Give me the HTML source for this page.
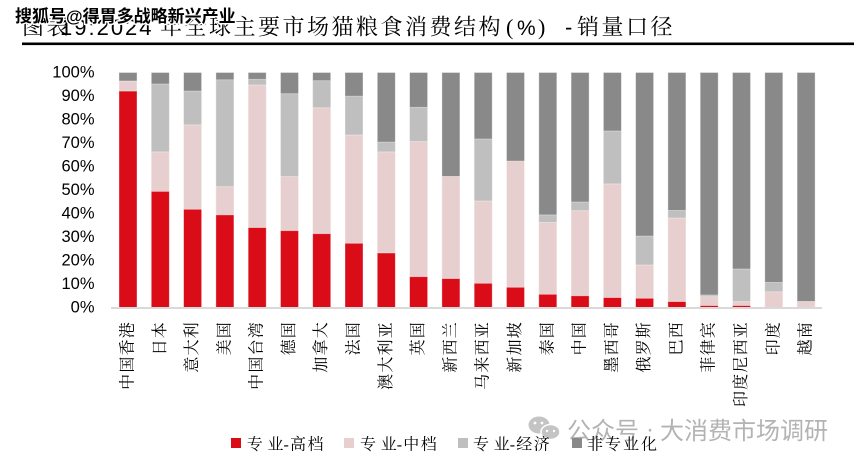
<!DOCTYPE html>
<html><head><meta charset="utf-8">
<style>
html,body{margin:0;padding:0;background:#fff;}
svg{display:block;}
.cjk{font-family:"Liberation Serif","Noto Serif CJK SC","Noto Sans CJK SC",serif;}
.sans{font-family:"Liberation Sans","Noto Sans CJK SC",sans-serif;}
</style></head>
<body>
<svg width="854" height="464" viewBox="0 0 854 464" xmlns="http://www.w3.org/2000/svg">
<rect width="854" height="464" fill="#fff"/>

<!-- Title -->
<g class="cjk" font-size="22" fill="#000">
  <text x="22" y="34.5" letter-spacing="2.5">图表</text>
  <text x="60" y="35" class="sans" font-size="22" letter-spacing="2">19:2024</text>
  <text x="160" y="34.5" letter-spacing="2.5">年全球主要市场猫粮食消费结构</text>
  <text x="506" y="34.5" font-family="'Liberation Serif',serif">(</text>
  <text x="517" y="35" class="sans" font-size="21">%</text>
  <text x="538" y="34.5" font-family="'Liberation Serif',serif">)</text>
  <text x="565" y="34.5" class="sans">-</text>
  <text x="577" y="34.5" letter-spacing="2.5">销量口径</text>
</g>
<rect x="22" y="42.5" width="832" height="2.6" fill="#000"/>

<!-- top-left watermark -->
<text x="15" y="22" font-size="17" font-weight="bold" fill="#000" stroke="#fff" stroke-width="3" paint-order="stroke" stroke-linejoin="round" font-family="'Liberation Sans','Noto Sans CJK SC',sans-serif">搜狐号@得胃多战略新兴产业</text>

<!-- Y axis labels -->
<g class="sans" font-size="16.5" fill="#000" text-anchor="end" dominant-baseline="central">
  <text x="94.5" y="307.5">0%</text>
  <text x="94.5" y="284">10%</text>
  <text x="94.5" y="260.5">20%</text>
  <text x="94.5" y="237">30%</text>
  <text x="94.5" y="213.5">40%</text>
  <text x="94.5" y="190">50%</text>
  <text x="94.5" y="166.5">60%</text>
  <text x="94.5" y="143">70%</text>
  <text x="94.5" y="119.5">80%</text>
  <text x="94.5" y="96">90%</text>
  <text x="94.5" y="72.5">100%</text>
</g>

<!-- Bars -->
<g stroke="#ffffff" stroke-opacity="0.45" stroke-width="0.8">
<g transform="translate(119,0)"><rect y="72.5" width="18" height="235" fill="#898989"/><rect y="81" width="18" height="226.5" fill="#E8CFCF"/><rect y="91.1" width="18" height="216.4" fill="#D90C18"/></g>
<g transform="translate(151.3,0)"><rect y="72.5" width="18" height="235" fill="#898989"/><rect y="84" width="18" height="223.5" fill="#BFBFBF"/><rect y="151.9" width="18" height="155.6" fill="#E8CFCF"/><rect y="191.4" width="18" height="116.1" fill="#D90C18"/></g>
<g transform="translate(183.6,0)"><rect y="72.5" width="18" height="235" fill="#898989"/><rect y="91.1" width="18" height="216.4" fill="#BFBFBF"/><rect y="124.9" width="18" height="182.6" fill="#E8CFCF"/><rect y="209.3" width="18" height="98.2" fill="#D90C18"/></g>
<g transform="translate(215.9,0)"><rect y="72.5" width="18" height="235" fill="#898989"/><rect y="79.8" width="18" height="227.7" fill="#BFBFBF"/><rect y="186.7" width="18" height="120.8" fill="#E8CFCF"/><rect y="214.9" width="18" height="92.6" fill="#D90C18"/></g>
<g transform="translate(248.2,0)"><rect y="72.5" width="18" height="235" fill="#898989"/><rect y="79.3" width="18" height="228.2" fill="#BFBFBF"/><rect y="85" width="18" height="222.5" fill="#E8CFCF"/><rect y="227.6" width="18" height="79.9" fill="#D90C18"/></g>
<g transform="translate(280.5,0)"><rect y="72.5" width="18" height="235" fill="#898989"/><rect y="93.7" width="18" height="213.8" fill="#BFBFBF"/><rect y="176.6" width="18" height="130.9" fill="#E8CFCF"/><rect y="230.7" width="18" height="76.8" fill="#D90C18"/></g>
<g transform="translate(312.7,0)"><rect y="72.5" width="18" height="235" fill="#898989"/><rect y="80.7" width="18" height="226.8" fill="#BFBFBF"/><rect y="107.8" width="18" height="199.7" fill="#E8CFCF"/><rect y="233.7" width="18" height="73.8" fill="#D90C18"/></g>
<g transform="translate(345,0)"><rect y="72.5" width="18" height="235" fill="#898989"/><rect y="96.2" width="18" height="211.3" fill="#BFBFBF"/><rect y="135" width="18" height="172.5" fill="#E8CFCF"/><rect y="243.3" width="18" height="64.2" fill="#D90C18"/></g>
<g transform="translate(377.3,0)"><rect y="72.5" width="18" height="235" fill="#898989"/><rect y="142.1" width="18" height="165.4" fill="#BFBFBF"/><rect y="151.9" width="18" height="155.6" fill="#E8CFCF"/><rect y="253" width="18" height="54.5" fill="#D90C18"/></g>
<g transform="translate(409.6,0)"><rect y="72.5" width="18" height="235" fill="#898989"/><rect y="107.3" width="18" height="200.2" fill="#BFBFBF"/><rect y="141.6" width="18" height="165.9" fill="#E8CFCF"/><rect y="276.7" width="18" height="30.8" fill="#D90C18"/></g>
<g transform="translate(441.9,0)"><rect y="72.5" width="18" height="235" fill="#898989"/><rect y="176.4" width="18" height="131.1" fill="#E8CFCF"/><rect y="278.6" width="18" height="28.9" fill="#D90C18"/></g>
<g transform="translate(474.2,0)"><rect y="72.5" width="18" height="235" fill="#898989"/><rect y="139" width="18" height="168.5" fill="#BFBFBF"/><rect y="201" width="18" height="106.5" fill="#E8CFCF"/><rect y="283.3" width="18" height="24.2" fill="#D90C18"/></g>
<g transform="translate(506.5,0)"><rect y="72.5" width="18" height="235" fill="#898989"/><rect y="161.1" width="18" height="146.4" fill="#E8CFCF"/><rect y="287.3" width="18" height="20.2" fill="#D90C18"/></g>
<g transform="translate(538.8,0)"><rect y="72.5" width="18" height="235" fill="#898989"/><rect y="214.9" width="18" height="92.6" fill="#BFBFBF"/><rect y="222.4" width="18" height="85.1" fill="#E8CFCF"/><rect y="294.3" width="18" height="13.2" fill="#D90C18"/></g>
<g transform="translate(571.1,0)"><rect y="72.5" width="18" height="235" fill="#898989"/><rect y="202" width="18" height="105.5" fill="#BFBFBF"/><rect y="210.7" width="18" height="96.8" fill="#E8CFCF"/><rect y="295.8" width="18" height="11.7" fill="#D90C18"/></g>
<g transform="translate(603.4,0)"><rect y="72.5" width="18" height="235" fill="#898989"/><rect y="131" width="18" height="176.5" fill="#BFBFBF"/><rect y="183.9" width="18" height="123.6" fill="#E8CFCF"/><rect y="297.6" width="18" height="9.9" fill="#D90C18"/></g>
<g transform="translate(635.6,0)"><rect y="72.5" width="18" height="235" fill="#898989"/><rect y="236.1" width="18" height="71.4" fill="#BFBFBF"/><rect y="265" width="18" height="42.5" fill="#E8CFCF"/><rect y="298.3" width="18" height="9.2" fill="#D90C18"/></g>
<g transform="translate(667.9,0)"><rect y="72.5" width="18" height="235" fill="#898989"/><rect y="210.4" width="18" height="97.1" fill="#BFBFBF"/><rect y="218" width="18" height="89.5" fill="#E8CFCF"/><rect y="301.6" width="18" height="5.9" fill="#D90C18"/></g>
<g transform="translate(700.2,0)"><rect y="72.5" width="18" height="235" fill="#898989"/><rect y="295" width="18" height="12.5" fill="#BFBFBF"/><rect y="296.7" width="18" height="10.8" fill="#E8CFCF"/><rect y="305.6" width="18" height="1.9" fill="#D90C18"/></g>
<g transform="translate(732.5,0)"><rect y="72.5" width="18" height="235" fill="#898989"/><rect y="269" width="18" height="38.5" fill="#BFBFBF"/><rect y="301.6" width="18" height="5.9" fill="#E8CFCF"/><rect y="305.6" width="18" height="1.9" fill="#D90C18"/></g>
<g transform="translate(764.8,0)"><rect y="72.5" width="18" height="235" fill="#898989"/><rect y="282.4" width="18" height="25.1" fill="#BFBFBF"/><rect y="291.8" width="18" height="15.7" fill="#E8CFCF"/></g>
<g transform="translate(797.1,0)"><rect y="72.5" width="18" height="235" fill="#898989"/><rect y="301.4" width="18" height="6.1" fill="#E8CFCF"/></g>
</g>

<!-- axis line -->
<rect x="111" y="307" width="711" height="2" fill="#D9D9D9"/>

<!-- X labels -->
<g class="cjk" font-size="16" letter-spacing="1.2" fill="#000" text-anchor="end" dominant-baseline="central">
  <text x="128" y="321" transform="rotate(-90 128 321)">中国香港</text>
  <text x="160.3" y="321" transform="rotate(-90 160.3 321)">日本</text>
  <text x="192.6" y="321" transform="rotate(-90 192.6 321)">意大利</text>
  <text x="224.9" y="321" transform="rotate(-90 224.9 321)">美国</text>
  <text x="257.2" y="321" transform="rotate(-90 257.2 321)">中国台湾</text>
  <text x="289.5" y="321" transform="rotate(-90 289.5 321)">德国</text>
  <text x="321.7" y="321" transform="rotate(-90 321.7 321)">加拿大</text>
  <text x="354" y="321" transform="rotate(-90 354 321)">法国</text>
  <text x="386.3" y="321" transform="rotate(-90 386.3 321)">澳大利亚</text>
  <text x="418.6" y="321" transform="rotate(-90 418.6 321)">英国</text>
  <text x="450.9" y="321" transform="rotate(-90 450.9 321)">新西兰</text>
  <text x="483.2" y="321" transform="rotate(-90 483.2 321)">马来西亚</text>
  <text x="515.5" y="321" transform="rotate(-90 515.5 321)">新加坡</text>
  <text x="547.8" y="321" transform="rotate(-90 547.8 321)">泰国</text>
  <text x="580.1" y="321" transform="rotate(-90 580.1 321)">中国</text>
  <text x="612.4" y="321" transform="rotate(-90 612.4 321)">墨西哥</text>
  <text x="644.6" y="321" transform="rotate(-90 644.6 321)">俄罗斯</text>
  <text x="676.9" y="321" transform="rotate(-90 676.9 321)">巴西</text>
  <text x="709.2" y="321" transform="rotate(-90 709.2 321)">菲律宾</text>
  <text x="741.5" y="321" transform="rotate(-90 741.5 321)">印度尼西亚</text>
  <text x="773.8" y="321" transform="rotate(-90 773.8 321)">印度</text>
  <text x="806.1" y="321" transform="rotate(-90 806.1 321)">越南</text>
</g>

<!-- bottom-right watermark -->
<g>
  <ellipse cx="539" cy="425" rx="10.5" ry="8.5" fill="#C4C4C4"/>
  <ellipse cx="550.5" cy="432" rx="9.5" ry="7.5" fill="#C4C4C4" stroke="#fff" stroke-width="1.5"/>
  <circle cx="535" cy="423" r="1.4" fill="#fff"/>
  <circle cx="542" cy="423" r="1.4" fill="#fff"/>
  <circle cx="547" cy="431" r="1.2" fill="#fff"/>
  <circle cx="554" cy="431" r="1.2" fill="#fff"/>
</g>
<g font-family="'Liberation Sans','Noto Sans CJK SC',sans-serif" font-size="24" fill="#B3B3B3">
  <text x="567" y="439">公众号</text>
  <text x="646" y="437">·</text>
  <text x="660" y="439">大消费市场调研</text>
</g>

<!-- Legend -->
<rect x="231" y="438" width="10" height="10" fill="#D90C18"/>
<rect x="344" y="438" width="10" height="10" fill="#E8CFCF"/>
<rect x="458" y="438" width="10" height="10" fill="#BFBFBF"/>
<rect x="572" y="438" width="10" height="10" fill="#898989"/>
<g class="cjk" font-size="16" fill="#000">
  <text x="246.7 267.5 283.5 290 307.5" y="449.5">专业-高档</text>
  <text x="360 380.8 396.8 403.3 420.8" y="449.5">专业-中档</text>
  <text x="473 493.8 509.8 516.3 533.8" y="449.5">专业-经济</text>
  <text x="587 605 623 641" y="449.5">非专业化</text>
</g>
</svg>
</body></html>
